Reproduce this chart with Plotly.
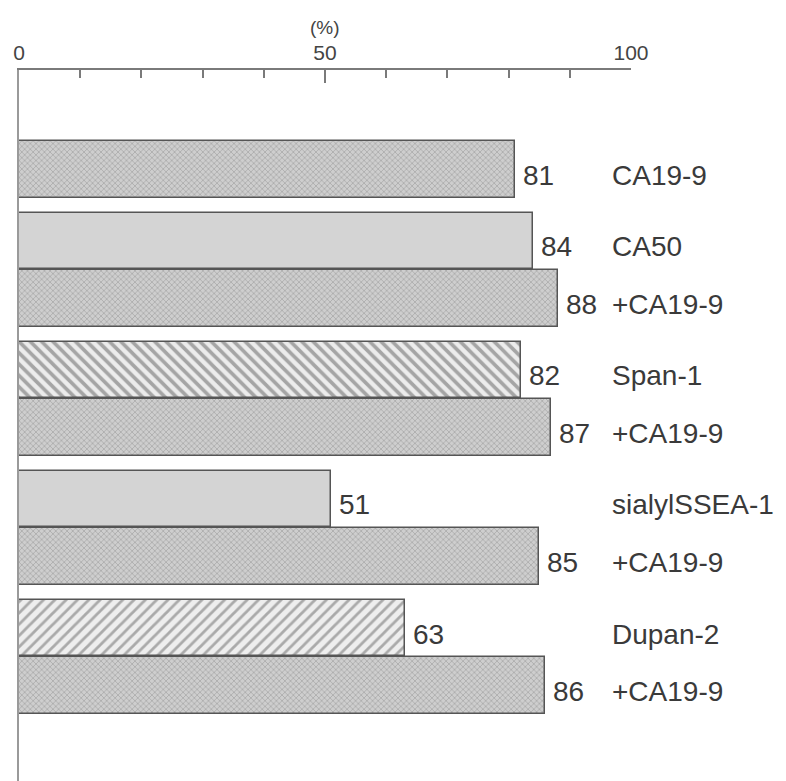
import plotly.graph_objects as go

labels = ["CA19-9", "CA50", "+CA19-9", "Span-1", "+CA19-9",
          "sialylSSEA-1", "+CA19-9", "Dupan-2", "+CA19-9"]
values = [81, 84, 88, 82, 87, 51, 85, 63, 86]
groups = [0, 1, 1, 2, 2, 3, 3, 4, 4]
styles = ["dots", "solid", "dots", "back", "dots", "solid", "dots", "fwd", "dots"]
x_ticks_major = [0, 50, 100]

GROUP_GAP = 0.24
ypos = [i + g * GROUP_GAP for i, g in enumerate(groups)]

style_defs = {
    "dots": dict(color="#bdbdbd", pattern=dict(shape="x", fgcolor="#737373", bgcolor="#cecece",
                                               size=4, solidity=0.3)),
    "solid": dict(color="#d4d4d4", pattern=dict(shape="")),
    "back": dict(color="#e6e6e6", pattern=dict(shape="\\", fgcolor="#5e5e5e", bgcolor="#ececec",
                                               size=8, solidity=0.45)),
    "fwd": dict(color="#e6e6e6", pattern=dict(shape="/", fgcolor="#666666", bgcolor="#eeeeee",
                                              size=8, solidity=0.35)),
}

fig = go.Figure()
for st, sd in style_defs.items():
    idx = [i for i, s in enumerate(styles) if s == st]
    fig.add_trace(go.Bar(
        x=[values[i] for i in idx],
        y=[ypos[i] for i in idx],
        orientation="h",
        width=0.98,
        marker=dict(color=sd["color"], pattern=sd["pattern"],
                    line=dict(color="#555555", width=1.5)),
        hoverinfo="skip",
        showlegend=False,
    ))

FONT = "Liberation Sans, Arial, sans-serif"
font_txt = dict(family=FONT, size=28, color="#3a3a3a")
for v, y in zip(values, ypos):
    fig.add_annotation(x=v, y=y, xref="x", yref="y", text=str(v), showarrow=False,
                       xanchor="left", yanchor="middle", xshift=6, yshift=-6, font=font_txt)
for lab, y in zip(labels, ypos):
    fig.add_annotation(x=96.6, y=y, xref="x", yref="y", text=lab, showarrow=False,
                       xanchor="left", yanchor="middle", yshift=-6, font=font_txt)

fig.add_annotation(x=50, y=1, xref="x", yref="paper", text="(%)", showarrow=False,
                   xanchor="center", yanchor="bottom", yshift=30,
                   font=dict(family=FONT, size=19, color="#444"))

fig.update_xaxes(
    range=[0, 100], side="top", showline=True, linecolor="#7a7a7a", linewidth=2,
    tickmode="array", tickvals=x_ticks_major, ticktext=[str(t) for t in x_ticks_major],
    ticks="inside", ticklen=13, tickwidth=2, tickcolor="#7a7a7a",
    minor=dict(dtick=10, ticks="inside", ticklen=8, tickwidth=2, tickcolor="#7a7a7a", showgrid=False),
    showgrid=False, zeroline=False, automargin=False,
    tickfont=dict(family=FONT, size=21, color="#444"),
)
fig.update_yaxes(
    range=[10.755, -1.727], showline=True, linecolor="#9a9a9a", linewidth=2,
    showticklabels=False, ticks="", showgrid=False, zeroline=False, automargin=False,
)
fig.update_layout(
    width=786, height=781,
    margin=dict(l=11, r=163, t=62, b=0),
    paper_bgcolor="white", plot_bgcolor="white",
    barmode="overlay", bargap=0,
)
fig.write_html("out.html")
